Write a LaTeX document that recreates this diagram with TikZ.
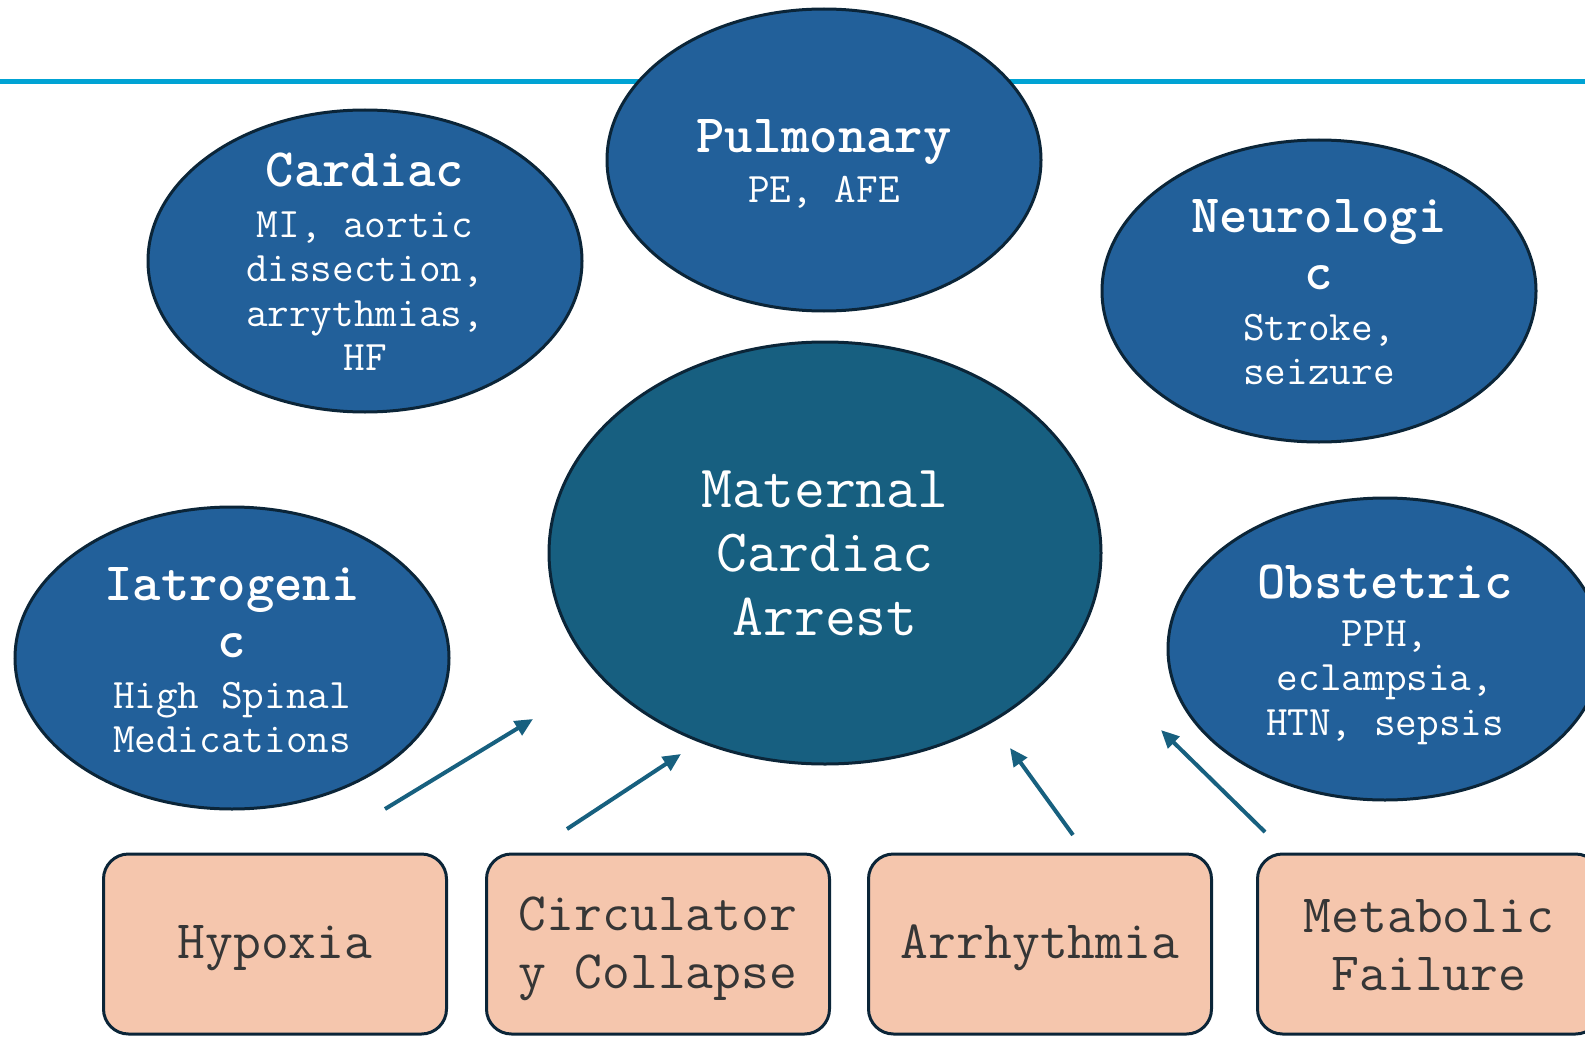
\documentclass[tikz,border=0pt]{standalone}
\usepackage{fontspec}
\newcommand{\mono}{\ttfamily}
\usetikzlibrary{shapes.geometric,arrows.meta}
\definecolor{topline}{HTML}{00A3D4}
\definecolor{causeblue}{HTML}{22609A}
\definecolor{mainteal}{HTML}{175F80}
\definecolor{edgedark}{HTML}{0B2538}
\definecolor{peach}{HTML}{F5C6AD}
\definecolor{boxtext}{HTML}{363636}
\definecolor{arrowcol}{HTML}{17607F}
\tikzset{
  cause/.style={ellipse, draw=edgedark, line width=3pt, fill=causeblue,
    minimum width=434pt, minimum height=302pt, inner sep=0pt},
  causetext/.style={text=white, inner sep=0pt, align=center,
    font=\mono\fontsize{42}{44.5}\selectfont},
  mainnode/.style={ellipse, draw=edgedark, line width=3pt, fill=mainteal, text=white,
    minimum width=552pt, minimum height=422pt, inner sep=0pt, align=center,
    font=\mono\fontsize{60}{64}\selectfont},
  mech/.style={rectangle, rounded corners=25pt, draw=edgedark, line width=3pt, fill=peach,
    minimum width=343pt, minimum height=180pt, inner sep=0pt},
  mechtext/.style={text=boxtext, inner sep=0pt, align=center,
    font=\mono\fontsize{54}{58}\selectfont},
  feed/.style={draw=arrowcol, line width=4pt, -{Triangle[length=18pt,width=16pt]}}
}
\newcommand{\ttlf}[1]{{\fontsize{54}{57}\selectfont\bfseries #1}}
\begin{document}
\begin{tikzpicture}[x=1pt,y=-1pt]
\useasboundingbox (0,0) rectangle (1585,1038);
\clip (0,0) rectangle (1585,1038);
\coordinate (lineL) at (0,82);
\coordinate (lineR) at (1585,82);
\draw[topline, line width=5pt] (lineL) -- (lineR);

\node[cause] (pulm) at (824,160) {};
\node[causetext, yshift=-4pt] (pulmT) at (pulm.center) {\ttlf{Pulmonary}\\[6pt]PE, AFE};
\node[cause] (card) at (365,261) {};
\node[causetext, yshift=-1pt] (cardT) at (card.center) {\ttlf{Cardiac}\\[6pt]MI, aortic\\dissection,\\arrythmias,\\HF};
\node[cause] (neuro) at (1319,291) {};
\node[causetext, yshift=-1pt] (neuroT) at (neuro.center) {\ttlf{Neurologi}\\[13pt]\ttlf{c}\\[6pt]Stroke,\\seizure};
\node[mainnode] (main) at (825,553) {Maternal\\Cardiac\\Arrest};
\node[cause] (iatro) at (232,658) {};
\node[causetext, yshift=-2pt] (iatroT) at (iatro.center) {\ttlf{Iatrogeni}\\[13pt]\ttlf{c}\\[6pt]High Spinal\\Medications};
\node[cause] (obst) at (1385,649) {};
\node[causetext, yshift=-6pt] (obstT) at (obst.center) {\ttlf{Obstetric}\\[3pt]PPH,\\eclampsia,\\HTN, sepsis};

\node[mech] (hyp) at (275,944) {};
\node[mechtext, yshift=-4pt] (hypT) at (hyp.center) {Hypoxia};
\node[mech] (circ) at (658,944) {};
\node[mechtext, yshift=-5pt] (circT) at (circ.center) {Circulator\\y Collapse};
\node[mech] (arr) at (1040,944) {};
\node[mechtext, yshift=-4pt] (arrT) at (arr.center) {Arrhythmia};
\node[mech] (meta) at (1429,944) {};
\node[mechtext, yshift=-1pt] (metaT) at (meta.center) {Metabolic\\Failure};

\coordinate (a1s) at (385,809); \coordinate (a1e) at (533,719);
\coordinate (a2s) at (567,829); \coordinate (a2e) at (681,754);
\coordinate (a3s) at (1073,835); \coordinate (a3e) at (1010,748);
\coordinate (a4s) at (1265,832); \coordinate (a4e) at (1161,730);
\draw[feed] (a1s) -- (a1e);
\draw[feed] (a2s) -- (a2e);
\draw[feed] (a3s) -- (a3e);
\draw[feed] (a4s) -- (a4e);
\end{tikzpicture}
\end{document}
